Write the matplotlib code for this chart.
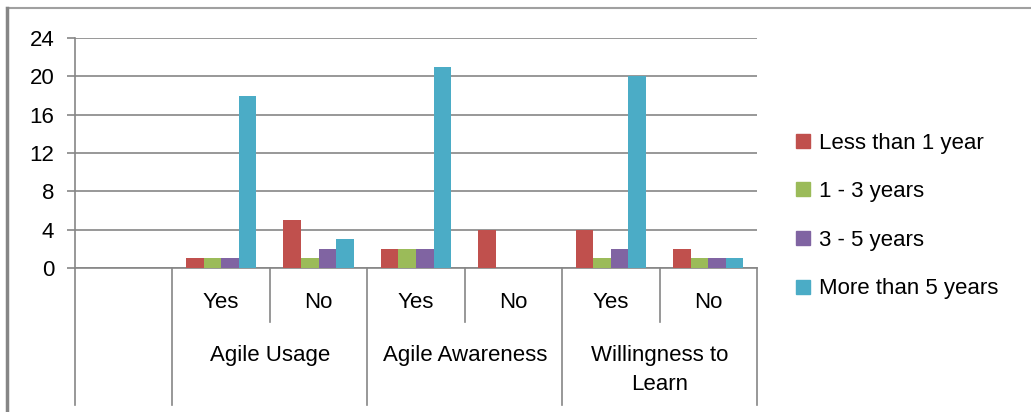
import numpy as np
import matplotlib
matplotlib.use("Agg")
import matplotlib.pyplot as plt
from matplotlib.transforms import blended_transform_factory
from matplotlib.lines import Line2D

plt.rcParams['font.family'] = ['Liberation Sans', 'DejaVu Sans']

# survey answers per experience band
groups = ["Agile Usage", "Agile Awareness", "Willingness to\nLearn"]
answers = ["Yes", "No"]
series = ["Less than 1 year", "1 - 3 years", "3 - 5 years", "More than 5 years"]
less_1 = [1, 5, 2, 4, 4, 2]
y1_3 = [1, 1, 2, 0, 1, 1]
y3_5 = [1, 2, 2, 0, 2, 1]
more_5 = [18, 3, 21, 0, 20, 1]
colors = ["#C0504D", "#9BBB59", "#8064A2", "#4BACC6"]
yticks = [0, 4, 8, 12, 16, 20, 24]

grey = "#868686"
fs = 16
fig = plt.figure(figsize=(10.31, 4.12), dpi=100)
ax = fig.add_axes([75 / 1031, 1 - 268 / 412, 682 / 1031, 230 / 412])

# first slot is an empty category, then Yes/No pairs
x = np.arange(1, 7)
w = 0.18
for i, (vals, c) in enumerate(zip([less_1, y1_3, y3_5, more_5], colors)):
    ax.bar(x + (i - 1.5) * w, vals, w, color=c, label=series[i], zorder=3)

ax.set_xlim(-0.5, 6.5)
ax.set_ylim(0, 24)
ax.set_yticks(yticks)
ax.set_yticklabels([str(t) for t in yticks], fontsize=fs)
ax.yaxis.grid(True, color=grey, lw=1.2)
ax.set_axisbelow(True)
ax.tick_params(axis='y', length=6, width=1.2, color=grey, pad=9)
ax.set_xticks([])
for s in ["top", "right"]:
    ax.spines[s].set_visible(False)
ax.spines["left"].set_color(grey)
ax.spines["bottom"].set_color(grey)
ax.spines["left"].set_linewidth(1.2)
ax.spines["bottom"].set_linewidth(1.2)

# category axis: separators and two label levels
tr = blended_transform_factory(ax.transData, ax.transAxes)
for b in [-0.5, 0.5, 2.5, 4.5, 6.5]:
    ax.plot([b, b], [0, -0.594], color=grey, lw=1.2, transform=tr, clip_on=False)
for b in [1.5, 3.5, 5.5]:
    ax.plot([b, b], [0, -0.235], color=grey, lw=1.2, transform=tr, clip_on=False)
for k in range(6):
    ax.text(k + 1, -0.152, answers[k % 2], transform=tr, ha='center', va='center', fontsize=fs)
for g, name in enumerate(groups):
    ax.text(2 * g + 1.5, -0.335, name, transform=tr, ha='center', va='top',
            fontsize=fs, linespacing=1.5)

# legend on the right
handles = [Line2D([], [], marker='s', ls='', color=c, markersize=10) for c in colors]
fig.legend(handles, series, loc='center left', bbox_to_anchor=(770 / 1031, 1 - 216 / 412),
           frameon=False, fontsize=fs, handletextpad=0.1, labelspacing=1.24, handlelength=1.2)

# chart area border
fig.add_artist(Line2D([7 / 1031, 1], [1 - 7.5 / 412] * 2, color="#A0A0A0", lw=1.5))
fig.add_artist(Line2D([7 / 1031] * 2, [0, 1 - 7.5 / 412], color=grey, lw=2.5))

fig.savefig("out.png", dpi=100)
